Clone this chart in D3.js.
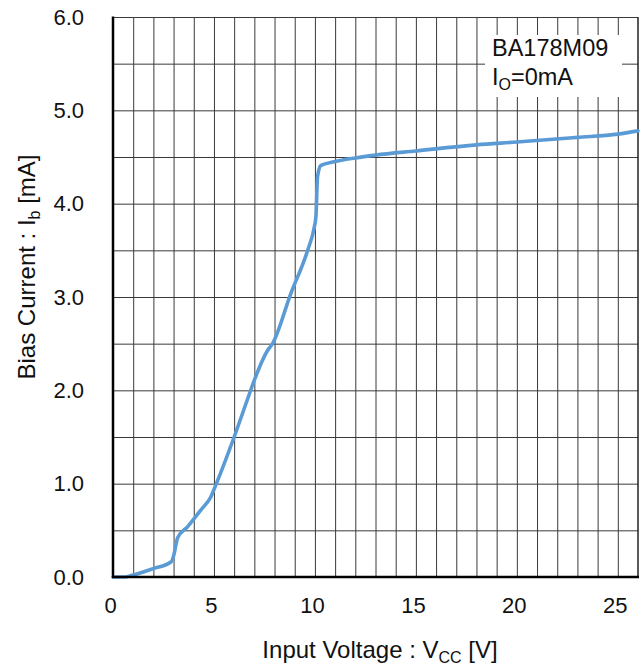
<!DOCTYPE html>
<html>
<head>
<meta charset="utf-8">
<script src="https://cdn.jsdelivr.net/npm/d3@7"></script>
<style>
  html, body { margin: 0; padding: 0; background: #fff; }
  svg { display: block; font-family: "Liberation Sans", Arial, sans-serif; }
</style>
</head>
<body>
<svg id="chart" width="643" height="666"></svg>
<script>
// ---- data ----
const vcc = [0, 0.6, 0.9, 2.0, 2.87, 3.03, 3.12, 3.2, 3.7, 4.36, 4.85, 5.1, 6.0, 6.67, 7.0, 7.66, 7.9, 8.81, 9.64, 9.97, 10.05, 10.13, 10.3, 10.96, 12, 13, 15, 18, 20, 23, 25, 26];
const ib  = [0, 0, 0.015, 0.09, 0.16, 0.25, 0.35, 0.42, 0.54, 0.72, 0.86, 0.99, 1.5, 1.91, 2.11, 2.43, 2.50, 3.04, 3.50, 3.75, 3.86, 4.29, 4.41, 4.45, 4.49, 4.52, 4.565, 4.63, 4.66, 4.71, 4.745, 4.78];
const xTickLabels = [0, 5, 10, 15, 20, 25];
const yTickLabels = [0, 1, 2, 3, 4, 5, 6];
const xGridValues = d3.range(1, 26, 1);
const yGridValues = d3.range(0.5, 6.01, 0.5);
const annotationLine1 = "BA178M09";

// ---- layout ----
const mLeft = 113, mRight = 638, mTop = 17, mBottom = 577;
const svg = d3.select("#chart");
const x = d3.scaleLinear().domain([0, 26]).range([mLeft, mRight]);
const y = d3.scaleLinear().domain([0, 6]).range([mBottom, mTop]);

const gridColor = "#3a3a3a";

// vertical grid
svg.append("g")
  .attr("transform", `translate(0,${mBottom})`)
  .call(d3.axisBottom(x).tickValues(xGridValues).tickSize(-(mBottom - mTop)).tickFormat(""))
  .call(g => g.select(".domain").remove())
  .call(g => g.selectAll("line").attr("stroke", gridColor).attr("stroke-width", 1));

// horizontal grid
svg.append("g")
  .attr("transform", `translate(${mLeft},0)`)
  .call(d3.axisLeft(y).tickValues(yGridValues).tickSize(-(mRight - mLeft)).tickFormat(""))
  .call(g => g.select(".domain").remove())
  .call(g => g.selectAll("line").attr("stroke", gridColor).attr("stroke-width", 1));

// right border
svg.append("line").attr("x1", x(26)).attr("x2", x(26)).attr("y1", mTop).attr("y2", mBottom)
  .attr("stroke", "#222").attr("stroke-width", 1.5);

// annotation box (white background hides grid)
svg.append("rect").attr("x", 485).attr("y", 35).attr("width", 137).attr("height", 62).attr("fill", "#fff");
const ann = svg.append("g").attr("font-size", 23.5).attr("fill", "#111");
ann.append("text").attr("x", 492).attr("y", 56).text(annotationLine1);
const t2 = ann.append("text").attr("x", 492).attr("y", 85);
t2.append("tspan").text("I");
t2.append("tspan").attr("font-size", 16).attr("dy", 5).text("O");
t2.append("tspan").attr("dy", -5).text("=0mA");

// curve
const pts = vcc.map((v, i) => [v, ib[i]]);
svg.append("path")
  .datum(pts)
  .attr("fill", "none")
  .attr("stroke", "#5B9BD5")
  .attr("stroke-width", 3.6)
  .attr("stroke-linejoin", "round")
  .attr("stroke-linecap", "round")
  .attr("d", d3.line().x(d => x(d[0])).y(d => y(d[1])).curve(d3.curveMonotoneX));

// axis lines
svg.append("line").attr("x1", mLeft).attr("x2", mLeft).attr("y1", mTop - 0.5).attr("y2", mBottom + 1)
  .attr("stroke", "#000").attr("stroke-width", 2.5);
svg.append("line").attr("x1", mLeft - 1).attr("x2", mRight + 1).attr("y1", mBottom).attr("y2", mBottom)
  .attr("stroke", "#000").attr("stroke-width", 2.5);

// x tick labels
svg.append("g")
  .attr("transform", `translate(-3,${mBottom})`)
  .call(d3.axisBottom(x).tickValues(xTickLabels).tickSize(0).tickPadding(0).tickFormat(d3.format("d")))
  .call(g => g.select(".domain").remove())
  .call(g => g.selectAll("text").attr("font-size", 22).attr("fill", "#111")
    .attr("dy", null).attr("y", 36).attr("font-family", "Liberation Sans, Arial, sans-serif"));

// y tick labels
svg.append("g")
  .attr("transform", `translate(${mLeft - 29},0)`)
  .call(d3.axisLeft(y).tickValues(yTickLabels).tickSize(0).tickPadding(0).tickFormat(d3.format(".1f")))
  .call(g => g.select(".domain").remove())
  .call(g => g.selectAll("text").attr("font-size", 22).attr("fill", "#111")
    .attr("font-family", "Liberation Sans, Arial, sans-serif"));

// x title
const xt = svg.append("text").attr("x", 380).attr("y", 658).attr("text-anchor", "middle")
  .attr("font-size", 24).attr("fill", "#111");
xt.append("tspan").text("Input Voltage : V");
xt.append("tspan").attr("font-size", 16).attr("dy", 5).text("CC");
xt.append("tspan").attr("dy", -5).text(" [V]");

// y title
const yt = svg.append("text").attr("transform", "translate(35,267) rotate(-90)").attr("text-anchor", "middle")
  .attr("font-size", 24).attr("fill", "#111");
yt.append("tspan").text("Bias Current : I");
yt.append("tspan").attr("font-size", 16).attr("dy", 5).text("b");
yt.append("tspan").attr("dy", -5).text(" [mA]");
</script>
</body>
</html>
